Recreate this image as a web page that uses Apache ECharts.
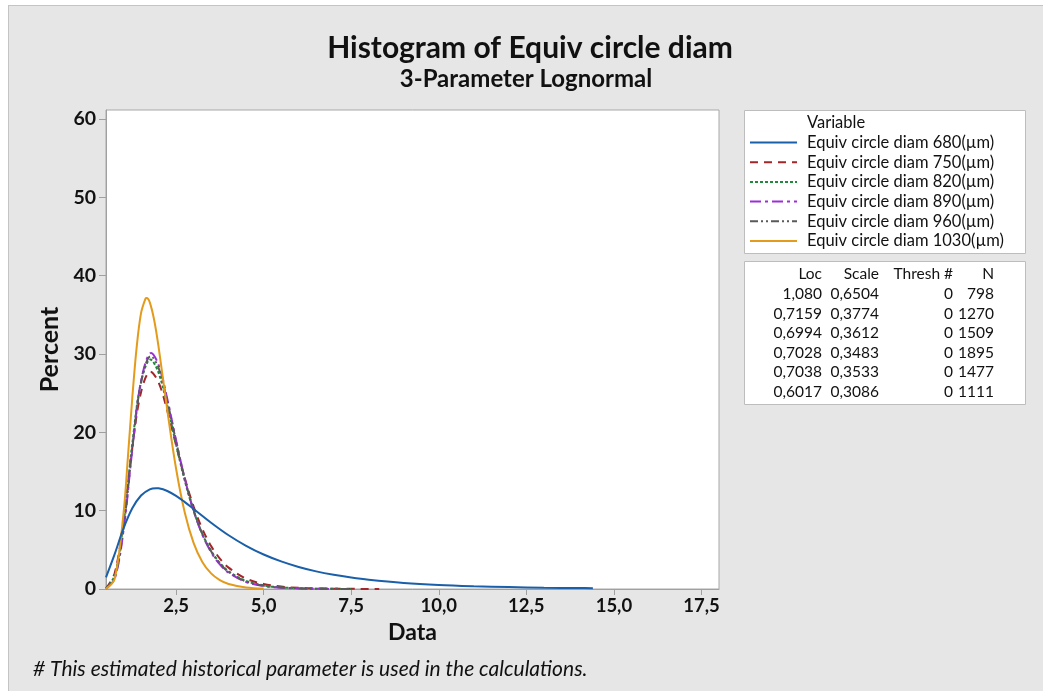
<!DOCTYPE html>
<html>
<head>
<meta charset="utf-8">
<script src="https://cdn.jsdelivr.net/npm/echarts@6/dist/echarts.min.js"></script>
<style>
  html, body { margin: 0; padding: 0; background: #ffffff; }
  #panel { position: absolute; left: 8px; top: 5px; width: 1100px; height: 700px;
           background: #e6e6e6; border: 1px solid #c4c4c4; }
  #chart { position: absolute; left: 0; top: 0; width: 1043px; height: 691px; }
</style>
</head>
<body>
<div id="panel"></div>
<div id="chart"></div>
<script>
// Fitted 3-parameter lognormal curves, in percent, for each diameter group
const names = [
  'Equiv circle diam 680(\u00b5m)',
  'Equiv circle diam 750(\u00b5m)',
  'Equiv circle diam 820(\u00b5m)',
  'Equiv circle diam 890(\u00b5m)',
  'Equiv circle diam 960(\u00b5m)',
  'Equiv circle diam 1030(\u00b5m)'
];

const x680 = [0.5,0.75,1,1.25,1.5,1.75,1.93,2,2.25,2.5,2.75,3,3.5,4,4.5,5,5.5,6,6.5,7,7.5,8,9,10,11,12,13,14,14.4];
const p680 = [1.49,4.48,7.73,10.30,11.94,12.73,12.87,12.85,12.51,11.89,11.09,10.22,8.46,6.86,5.51,4.40,3.52,2.81,2.25,1.81,1.46,1.18,0.78,0.52,0.36,0.25,0.17,0.12,0.11];

const x750 = [0.5,0.75,1,1.25,1.5,1.77,2,2.25,2.5,2.75,3,3.25,3.5,3.75,4,4.5,5,5.5,6,6.5,7,7.5,8,8.3];
const p750 = [0.10,2.05,8.75,18.03,25.13,27.75,26.38,22.76,18.36,14.14,10.54,7.67,5.49,3.89,2.73,1.33,0.64,0.31,0.15,0.07,0.04,0.02,0.01,0.01];

const x820 = [0.5,0.75,1,1.25,1.5,1.77,2,2.25,2.5,2.75,3,3.25,3.5,3.75,4,4.5,5,5.5,6,6.5,7,7.5];
const p820 = [0.07,1.76,8.47,18.52,26.44,29.29,27.61,23.40,18.45,13.82,10.00,7.05,4.88,3.34,2.26,1.03,0.46,0.21,0.10,0.04,0.02,0.01];

const x890 = [0.5,0.75,1,1.25,1.5,1.79,2,2.25,2.5,2.75,3,3.25,3.5,3.75,4,4.5,5,5.5,6,6.5,7];
const p890 = [0.04,1.34,7.48,17.75,26.52,30.13,28.62,24.26,18.98,14.06,10.01,6.93,4.70,3.15,2.09,0.90,0.39,0.17,0.07,0.03,0.01];

const x960 = [0.5,0.75,1,1.25,1.5,1.78,2,2.25,2.5,2.75,3,3.25,3.5,3.75,4,4.5,5,5.5,6,6.5,7,7.5];
const p960 = [0.05,1.47,7.76,17.90,26.35,29.73,28.22,23.97,18.85,14.05,10.08,7.04,4.82,3.26,2.18,0.96,0.42,0.19,0.08,0.04,0.02,0.01];

const x1030 = [0.5,0.75,1,1.125,1.25,1.375,1.5,1.625,1.66,1.75,1.875,2,2.25,2.5,2.75,3,3.25,3.5,3.75,4,4.5,5];
const p1030 = [0.02,1.35,9.66,16.80,24.37,30.85,35.21,37.05,37.14,36.59,34.34,30.93,22.83,15.38,9.73,5.89,3.46,1.99,1.13,0.64,0.20,0.06];

// Axis ticks
const xTicks = [2.5, 5, 7.5, 10, 12.5, 15, 17.5];
const yTicks = [0, 10, 20, 30, 40, 50, 60];

// Parameter table
const locVals    = ['1,080', '0,7159', '0,6994', '0,7028', '0,7038', '0,6017'];
const scaleVals  = ['0,6504', '0,3774', '0,3612', '0,3483', '0,3533', '0,3086'];
const threshVals = ['0', '0', '0', '0', '0', '0'];
const nVals      = ['798', '1270', '1509', '1895', '1477', '1111'];

const xs = [x680, x750, x820, x890, x960, x1030];
const ps = [p680, p750, p820, p890, p960, p1030];

const colors = ['#1a5fa9', '#a3262a', '#1f8a3c', '#9b2fd6', '#5a5a5a', '#e39b1c'];
const dashes = [null, [8, 6], [3, 2], [11, 4, 3, 4], [8, 3, 2, 3, 2, 3], null];

const FONT = 'Lato';
const INK = '#111111';
const comma1 = v => v.toFixed(1).replace('.', ',');

const series = names.map((n, i) => ({
  name: n,
  type: 'line',
  data: xs[i].map((x, j) => [x, ps[i][j]]),
  smooth: 0.35,
  symbol: 'none',
  clip: true,
  lineStyle: { color: colors[i], width: 2, type: dashes[i] || 'solid' },
  z: i === 0 ? 3 : 2
}));

// Legend box: key lines and labels
const legendItems = [];
names.forEach((n, i) => {
  const y = 142.5 + 19.7 * i;
  legendItems.push({ type: 'line', z: 10, shape: { x1: 750, y1: y, x2: 797, y2: y },
    style: { stroke: colors[i], lineWidth: 2, lineDash: dashes[i] || null } });
  legendItems.push({ type: 'text', z: 10, x: 807, y: y,
    style: { text: n, fill: INK, font: '16.5px ' + FONT, textVerticalAlign: 'middle' } });
});

// Parameter table text
const tableTexts = [];
const rowY = [294, 313.5, 333, 352.5, 372, 391.5];
const cols = [
  { right: 822, head: 'Loc', vals: locVals },
  { right: 879, head: 'Scale', vals: scaleVals },
  { right: 953, head: 'Thresh #', vals: threshVals },
  { right: 994, head: 'N', vals: nVals }
];
cols.forEach(c => {
  tableTexts.push({ type: 'text', z: 10, x: c.right, y: 274,
    style: { text: c.head, fill: INK, font: '15.5px ' + FONT, textAlign: 'right', textVerticalAlign: 'middle' } });
  c.vals.forEach((v, r) => {
    tableTexts.push({ type: 'text', z: 10, x: c.right, y: rowY[r],
      style: { text: v, fill: INK, font: '15.5px ' + FONT, textAlign: 'right', textVerticalAlign: 'middle' } });
  });
});

const chart = echarts.init(document.getElementById('chart'), null, { renderer: 'canvas' });
chart.setOption({
  animation: false,
  backgroundColor: 'transparent',
  textStyle: { fontFamily: FONT },
  title: [
    { text: 'Histogram of Equiv circle diam', left: 530, top: 33, textAlign: 'center', padding: 0,
      textStyle: { fontFamily: FONT, fontSize: 30, fontWeight: 'bold', color: INK } },
    { text: '3-Parameter Lognormal', left: 526, top: 67, textAlign: 'center', padding: 0,
      textStyle: { fontFamily: FONT, fontSize: 24, fontWeight: 'bold', color: INK } }
  ],
  grid: { left: 106, top: 110, width: 613, height: 479, show: true,
          backgroundColor: '#ffffff', borderColor: '#a8a8a8', borderWidth: 1, containLabel: false },
  xAxis: {
    type: 'value', min: 0.5, max: 18,
    name: 'Data', nameLocation: 'middle', nameGap: 32,
    nameTextStyle: { fontFamily: FONT, fontSize: 23, fontWeight: 'bold', color: INK },
    axisLine: { show: true, onZero: false, lineStyle: { color: '#a0a0a0' } },
    axisTick: { show: true, length: 6, customValues: xTicks, lineStyle: { color: '#a0a0a0' } },
    axisLabel: { customValues: xTicks, formatter: v => comma1(v), margin: 8,
                 fontFamily: FONT, fontSize: 18.5, fontWeight: 'bold', color: INK },
    splitLine: { show: false }
  },
  yAxis: {
    type: 'value', min: 0, max: 61.15,
    name: 'Percent', nameLocation: 'middle', nameGap: 44, nameRotate: 90,
    nameTextStyle: { fontFamily: FONT, fontSize: 25, fontWeight: 'bold', color: INK },
    axisLine: { show: true, onZero: false, lineStyle: { color: '#a0a0a0' } },
    axisTick: { show: true, length: 7, customValues: yTicks, lineStyle: { color: '#a0a0a0' } },
    axisLabel: { customValues: yTicks, margin: 10,
                 fontFamily: FONT, fontSize: 19.5, fontWeight: 'bold', color: INK },
    splitLine: { show: false }
  },
  graphic: [
    { type: 'rect', z: 1, shape: { x: 744.5, y: 110.5, width: 281, height: 143 },
      style: { fill: '#ffffff', stroke: '#bdbdbd', lineWidth: 1 } },
    { type: 'rect', z: 1, shape: { x: 744.5, y: 261.5, width: 281, height: 143 },
      style: { fill: '#ffffff', stroke: '#bdbdbd', lineWidth: 1 } },
    { type: 'text', z: 10, x: 807, y: 123,
      style: { text: 'Variable', fill: INK, font: '16.5px ' + FONT, textVerticalAlign: 'middle' } },
    ...legendItems,
    ...tableTexts,
    { type: 'text', z: 10, x: 33, y: 669,
      style: { text: '# This estimated historical parameter is used in the calculations.',
               fill: INK, font: 'italic 21px ' + FONT, textVerticalAlign: 'middle' } }
  ],
  series: series
});
</script>
</body>
</html>
